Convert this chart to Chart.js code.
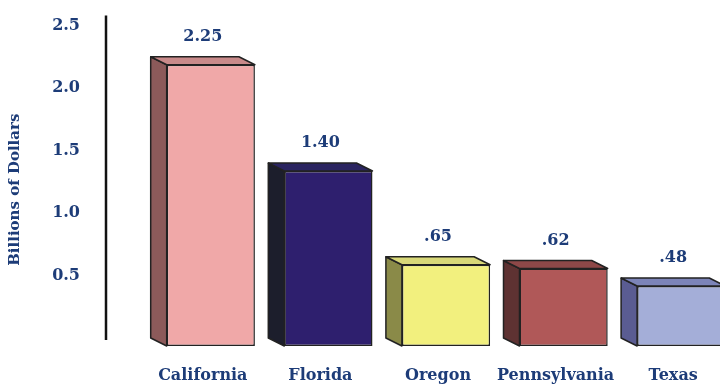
<!DOCTYPE html>
<html>
<head>
<meta charset="utf-8">
<script src="https://cdn.jsdelivr.net/npm/chart.js@4"></script>
<style>
  html, body { margin: 0; padding: 0; background: #fff; overflow: hidden; }
  #wrap { width: 720px; height: 388px; overflow: hidden; }
</style>
</head>
<body>
<div id="wrap"><canvas id="billsChart" width="740" height="388"></canvas></div>
<script>
const states = ['California', 'Florida', 'Oregon', 'Pennsylvania', 'Texas'];
const billions = [2.25, 1.40, 0.65, 0.62, 0.48];

// face colours per bar
const frontColors = ['#f0a8a8', '#2e1f6e', '#f2f07e', '#b05858', '#a4aed8'];
const sideColors  = ['#8c5a5a', '#1c1e2c', '#8a8a48', '#5e3232', '#5a5c92'];
const topColors   = ['#c98a8a', '#2a2460', '#d8d878', '#8e4848', '#7c84b8'];

const textBlue = '#1d3c78';
const depthX = 16, depthY = 8;

function fmtValue(v) {
    const s = v.toFixed(2);
    return v < 1 ? s.replace(/^0/, '') : s;
}

// draws the fake 3D side/top faces plus value labels and the axis rule
const boxPlugin = {
    id: 'box3d',
    beforeDatasetsDraw(chart) {
        const ctx = chart.ctx;
        const meta = chart.getDatasetMeta(0);
        ctx.save();
        ctx.lineWidth = 1.5;
        ctx.strokeStyle = '#222';
        ctx.lineJoin = 'round';
        meta.data.forEach((bar, i) => {
            const l = bar.x - bar.width / 2, r = bar.x + bar.width / 2;
            const t = bar.y, b = bar.base;
            // side face
            ctx.beginPath();
            ctx.moveTo(l, t);
            ctx.lineTo(l - depthX, t - depthY);
            ctx.lineTo(l - depthX, b - depthY);
            ctx.lineTo(l, b);
            ctx.closePath();
            ctx.fillStyle = sideColors[i];
            ctx.fill();
            ctx.stroke();
            // top face
            ctx.beginPath();
            ctx.moveTo(l, t);
            ctx.lineTo(l - depthX, t - depthY);
            ctx.lineTo(r - depthX, t - depthY);
            ctx.lineTo(r, t);
            ctx.closePath();
            ctx.fillStyle = topColors[i];
            ctx.fill();
            ctx.stroke();
        });
        ctx.restore();
    },
    afterDraw(chart) {
        const ctx = chart.ctx;
        const area = chart.chartArea;
        const meta = chart.getDatasetMeta(0);
        ctx.save();
        ctx.font = 'bold 16px "DejaVu Serif"';
        ctx.fillStyle = textBlue;
        ctx.textAlign = 'center';
        ctx.textBaseline = 'middle';
        meta.data.forEach((bar, i) => {
            ctx.fillText(fmtValue(billions[i]), bar.x - depthX / 2, bar.y - 28);
        });
        // vertical axis rule
        ctx.strokeStyle = '#111';
        ctx.lineWidth = 2.5;
        ctx.beginPath();
        ctx.moveTo(area.left - 46, area.top - 18);
        ctx.lineTo(area.left - 46, area.bottom - 6);
        ctx.stroke();
        ctx.restore();
    }
};

new Chart(document.getElementById('billsChart'), {
    type: 'bar',
    data: {
        labels: states,
        datasets: [{
            data: billions,
            backgroundColor: frontColors,
            borderColor: '#222',
            borderWidth: 1.5,
            borderSkipped: false,
            barPercentage: 0.75,
            categoryPercentage: 1
        }]
    },
    options: {
        responsive: false,
        animation: false,
        layout: { padding: { top: 33.5, right: 0, left: 0, bottom: 0 } },
        plugins: { legend: { display: false }, tooltip: { enabled: false } },
        scales: {
            x: {
                grid: { display: false },
                border: { display: false },
                afterFit(scale) { scale.height = 42; },
                ticks: {
                    color: textBlue,
                    font: { family: 'DejaVu Serif', weight: 'bold', size: 16 },
                    padding: 12,
                    labelOffset: -8,
                    autoSkip: false,
                    maxRotation: 0
                }
            },
            y: {
                min: 0,
                max: 2.5,
                grid: { display: false },
                border: { display: false },
                afterFit(scale) {
                    scale.width = 152;
                    // big tick padding would otherwise squeeze the plot vertically
                    scale.paddingTop = 0;
                    scale.paddingBottom = 0;
                },
                title: {
                    display: true,
                    text: 'Billions of Dollars',
                    color: textBlue,
                    font: { family: 'DejaVu Serif', weight: 'bold', size: 15 },
                    padding: { top: 6, bottom: 0 }
                },
                ticks: {
                    stepSize: 0.5,
                    color: textBlue,
                    font: { family: 'DejaVu Serif', weight: 'bold', size: 16 },
                    padding: 64,
                    labelOffset: -8,
                    callback: v => v === 0 ? '' : v.toFixed(1)
                }
            }
        }
    },
    plugins: [boxPlugin]
});
</script>
</body>
</html>
